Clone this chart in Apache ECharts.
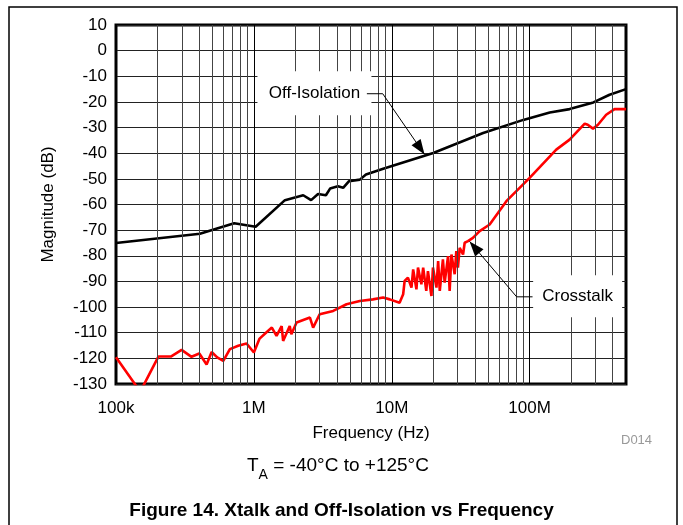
<!DOCTYPE html>
<html>
<head>
<meta charset="utf-8">
<script src="https://cdn.jsdelivr.net/npm/echarts@6/dist/echarts.min.js"></script>
<style>
html, body { margin: 0; padding: 0; background: #fff; }
#main { width: 683px; height: 525px; }
</style>
</head>
<body>
<div id="main"></div>
<script>
// Off-Isolation (black)
var isoFreq = [1e5, 4.06e5, 7.2e5, 1.03e6, 1.68e6, 2.28e6, 2.6e6, 2.92e6, 3.33e6, 3.57e6, 4.07e6, 4.44e6,
               4.9e6, 5.87e6, 6.5e6, 8.67e6, 2e7, 4.6e7, 9e7, 1.4e8, 1.95e8, 2.9e8, 3.8e8, 5e8];
var isoDb   = [-75, -71.4, -67.3, -68.7, -58.3, -56.4, -58.3, -55.9, -56.4, -53.8, -52.9, -53.5,
               -50.9, -50.3, -48.3, -46.1, -39.9, -32.1, -27, -24.1, -22.8, -20.2, -17.2, -15];

// Crosstalk (red)
var xtalkFreq = [1e5, 1.5e5, 2.03e5, 2.5e5, 2.99e5, 3.53e5, 4.02e5, 4.54e5, 4.94e5, 5.42e5, 6e5, 6.7e5,
                 7.7e5, 8.85e5, 1e6, 1.1e6, 1.23e6, 1.35e6, 1.46e6, 1.59e6, 1.63e6, 1.82e6, 1.87e6, 2.04e6,
                 2.55e6, 2.69e6, 3e6, 3.76e6, 4.7e6, 5.86e6, 7.3e6, 8.65e6, 9.68e6, 1.14e7, 1.21e7, 1.24e7,
                 1.31e7, 1.39e7, 1.43e7, 1.51e7, 1.55e7, 1.64e7, 1.69e7, 1.78e7, 1.83e7, 1.94e7, 1.99e7, 2.11e7,
                 2.17e7, 2.23e7, 2.35e7, 2.42e7, 2.56e7, 2.63e7, 2.71e7, 2.86e7, 2.94e7, 3.02e7, 3.11e7, 3.29e7,
                 3.38e7, 3.57e7, 3.88e7, 4.34e7, 5.13e7, 6.78e7, 1e8, 1.56e8, 1.95e8, 2.51e8, 2.64e8, 2.88e8,
                 3.13e8, 3.59e8, 4.13e8, 4.88e8, 5e8];
var xtalkDb   = [-119.6, -133, -119.3, -119.3, -116.7, -119.4, -118.1, -122.4, -117.5, -119.6, -121, -116.4,
                 -115.1, -114.2, -117.7, -112.3, -109.9, -108, -111.2, -107.4, -113.2, -107.4, -110.6, -106,
                 -104.1, -108, -102.8, -101.5, -98.9, -97.6, -97, -96.3, -97, -98.3, -95, -89.8,
                 -88.5, -92.4, -85.3, -93.1, -84.6, -91.1, -84.6, -93.7, -86, -95.7, -84.6, -92.4,
                 -82.1, -93.7, -81.4, -90.5, -80.1, -93.7, -79.5, -87.2, -78.2, -84.6, -76.9, -79.5,
                 -74.9, -74.3, -73, -70.4, -67.8, -58.7, -49.6, -38.6, -34.7, -28.5, -28.9, -30.4,
                 -28.9, -25, -22.8, -22.8, -22.8];

// axis ticks
var decades = [1e5, 1e6, 1e7, 1e8];
var decadeLabels = ['100k', '1M', '10M', '100M'];
var yMin = -130, yMax = 10, yStep = 10;

var FONT = 'Liberation Sans, Arial, sans-serif';

function pairs(xs, ys) {
    return xs.map(function (x, i) { return [x, ys[i]]; });
}

// minor vertical grid lines 2..9 x each decade
var minorLines = [];
decades.forEach(function (d) {
    for (var k = 2; k <= 9; k++) {
        if (k * d < 5e8) minorLines.push({ xAxis: k * d });
    }
});

var myChart = echarts.init(document.getElementById('main'));

var option = {
    animation: false,
    grid: {
        left: 116, right: 57, top: 25, bottom: 141,
        show: true, borderColor: '#000', borderWidth: 3
    },
    xAxis: {
        type: 'log',
        logBase: 10,
        min: 1e5,
        max: 5e8,
        name: 'Frequency (Hz)',
        nameLocation: 'middle',
        nameGap: 41,
        nameTextStyle: { fontSize: 17, color: '#000', fontFamily: FONT },
        axisLine: { show: false },
        axisTick: { show: false },
        axisLabel: {
            margin: 16,
            fontSize: 17,
            color: '#000',
            fontFamily: FONT,
            formatter: function (v) {
                var e = Math.log10(v);
                if (Math.abs(e - Math.round(e)) > 1e-6) return '';
                var i = decades.indexOf(Math.pow(10, Math.round(e)));
                return i >= 0 ? decadeLabels[i] : '';
            }
        },
        splitLine: { show: true, lineStyle: { color: '#000', width: 1 } }
    },
    yAxis: {
        type: 'value',
        min: yMin,
        max: yMax,
        interval: yStep,
        name: 'Magnitude (dB)',
        nameLocation: 'middle',
        nameGap: 59,
        nameTextStyle: { fontSize: 17, color: '#000', fontFamily: FONT },
        axisLine: { show: false },
        axisTick: { show: false },
        axisLabel: { margin: 9, fontSize: 17, color: '#000', fontFamily: FONT },
        splitLine: { show: true, lineStyle: { color: '#222', width: 1 } }
    },
    series: [
        {
            // minor grid
            type: 'line',
            data: [],
            z: 1,
            markLine: {
                silent: true,
                symbol: ['none', 'none'],
                label: { show: false },
                lineStyle: { color: '#444', width: 1, type: 'solid' },
                data: minorLines
            }
        },
        {
            name: 'Off-Isolation',
            type: 'line',
            showSymbol: false,
            symbol: 'none',
            z: 3,
            lineStyle: { color: '#000', width: 2.6 },
            data: pairs(isoFreq, isoDb)
        },
        {
            name: 'Crosstalk',
            type: 'line',
            showSymbol: false,
            symbol: 'none',
            z: 3,
            lineStyle: { color: '#ff0000', width: 2.6 },
            data: pairs(xtalkFreq, xtalkDb)
        }
    ]
};

myChart.setOption(option);

// annotations anchored in data coordinates
function px(p) { return myChart.convertToPixel({ gridIndex: 0 }, p); }

function arrowHead(tip, from, len, half) {
    var dx = tip[0] - from[0], dy = tip[1] - from[1];
    var l = Math.sqrt(dx * dx + dy * dy);
    var ux = dx / l, uy = dy / l;
    var bx = tip[0] - ux * len, by = tip[1] - uy * len;
    return [[tip[0], tip[1]], [bx - uy * half, by + ux * half], [bx + uy * half, by - ux * half]];
}

function callout(text, center, boxW, boxH, start, bend, tip) {
    var c = px(center), s = px(start), b = px(bend), t = px(tip);
    return [
        { type: 'rect', z: 50, shape: { x: c[0] - boxW / 2, y: c[1] - boxH / 2, width: boxW, height: boxH },
          style: { fill: '#fff' } },
        { type: 'text', z: 51, x: c[0], y: c[1],
          style: { text: text, font: '17px ' + FONT, fill: '#000', align: 'center', verticalAlign: 'middle' } },
        { type: 'polyline', z: 51, shape: { points: [s, b, t] }, style: { stroke: '#000', lineWidth: 1, fill: null } },
        { type: 'polygon', z: 52, shape: { points: arrowHead(t, b, 15, 5.5) }, style: { fill: '#000' } }
    ];
}

var gfx = [];
gfx = gfx.concat(callout('Off-Isolation', [2.75e6, -16.6], 114, 44, [6.6e6, -16.8], [8.6e6, -16.8], [1.73e7, -40.5]));
gfx = gfx.concat(callout('Crosstalk', [2.23e8, -95.8], 89, 42, [1.05e8, -96], [8.05e7, -96], [3.67e7, -74.4]));

gfx.push(
    { type: 'rect', z: 0, shape: { x: 9, y: 7, width: 668, height: 540 },
      style: { fill: null, stroke: '#000', lineWidth: 1.5 } },
    { type: 'text', left: 621, top: 434,
      style: { text: 'D014', font: '13px ' + FONT, fill: '#999' } },
    { type: 'text', left: 247, top: 456,
      style: {
          text: '{t|T}{s|A}{t| = -40°C to +125°C}',
          rich: {
              t: { fontSize: 19, fontFamily: FONT, fill: '#000', lineHeight: 26, verticalAlign: 'top', padding: [0, 0, 0, 0] },
              s: { fontSize: 14, fontFamily: FONT, fill: '#000', lineHeight: 26, verticalAlign: 'bottom', padding: [10, 0, 0, 0] }
          }
      } },
    { type: 'text', left: 'center', top: 501,
      style: { text: 'Figure 14. Xtalk and Off-Isolation vs Frequency', font: 'bold 19px ' + FONT, fill: '#000' } }
);

myChart.setOption({ graphic: gfx });
</script>
</body>
</html>
